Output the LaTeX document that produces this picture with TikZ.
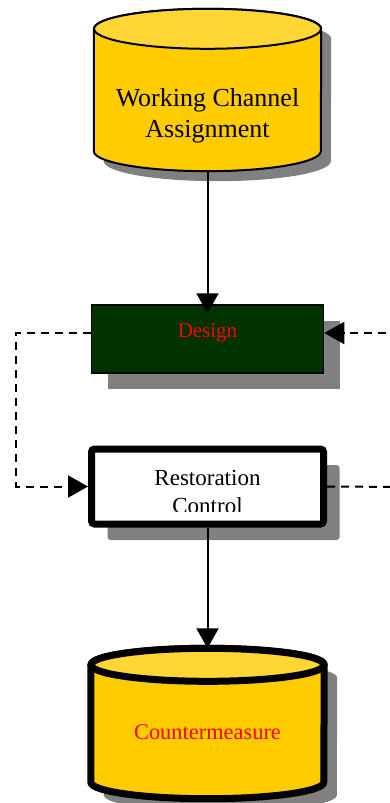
\documentclass[tikz,border=0pt]{standalone}
\usepackage{fontspec}
\setmainfont{Liberation Serif}
\usetikzlibrary{shadows,arrows.meta,positioning,backgrounds}
\definecolor{canyellow}{HTML}{FFCC00}
\definecolor{lidyellow}{HTML}{FFD633}
\definecolor{darkgreen}{HTML}{003300}

% drum drawn round a node: node, x radius, lid y radius, shadow offset, line width
\newcommand{\drumround}[5]{%
  \fill[gray,transform canvas={shift={(#4pt,-#4pt)}}]
     ([yshift=-#3pt]#1.north west) -- ([yshift=#3pt]#1.south west)
     arc[start angle=180,end angle=360,x radius=#2pt,y radius=#3pt] -- ([yshift=-#3pt]#1.north east)
     arc[start angle=0,end angle=180,x radius=#2pt,y radius=#3pt] -- cycle;
  \filldraw[fill=canyellow,line width=#5pt,line join=round]
     ([yshift=-#3pt]#1.north west) -- ([yshift=#3pt]#1.south west)
     arc[start angle=180,end angle=360,x radius=#2pt,y radius=#3pt] -- ([yshift=-#3pt]#1.north east)
     arc[start angle=0,end angle=180,x radius=#2pt,y radius=#3pt] -- cycle;
  \filldraw[fill=lidyellow,line width=#5pt]
     ([yshift=-#3pt]#1.north) ellipse[x radius=#2pt,y radius=#3pt];
}

\begin{document}
\begin{tikzpicture}[x=1pt,y=1pt,node distance=150pt,on grid,
   >={Triangle[length=20pt,width=22pt]},
   store/.style={rectangle,inner sep=0pt},
   procbox/.style={rectangle,draw,inner sep=0pt,minimum width=232pt},
   blockshadow/.style={drop shadow={shadow xshift=#1,shadow yshift=-#1,fill=gray,opacity=1}},
   flow/.style={->,line width=2pt},
   feedback/.style={->,line width=2pt,dash pattern=on 8pt off 6pt}]
   \useasboundingbox (0,0) rectangle (390,-803);
   \clip (0,0) rectangle (390,-803);
   % stores and blocks
   \node[store,minimum width=227pt,minimum height=162pt,
         label={[align=center,font=\fontsize{26}{31}\selectfont,yshift=-26pt]center:{Working Channel\\Assignment}}]
         (wca) at (207.5,-90) {};
   \node[procbox,line width=1.5pt,fill=darkgreen,minimum height=68pt,blockshadow=16pt,
         label={[text=red,font=\fontsize{21}{25}\selectfont,yshift=6pt]center:Design}]
         (design) [below=249pt of wca] {};
   \node[procbox,line width=7pt,fill=white,rounded corners=3pt,minimum height=75pt,blockshadow=16pt,
         path picture={
            \clip ([yshift=13pt]path picture bounding box.south west) rectangle (path picture bounding box.north east);
            \node[align=center,font=\fontsize{23}{28}\selectfont] at ([yshift=-5.5pt]path picture bounding box.center)
               {Restoration\\Control};}]
         (restore) [below=147.5pt of design] {};
   \node[store,minimum width=233pt,minimum height=150pt,
         label={[text=red,font=\fontsize{22.4}{27}\selectfont,yshift=-8.5pt]center:Countermeasure}]
         (cm) [below=237pt of restore] {};
   \begin{scope}[on background layer]
      \drumround{wca}{113.5}{20}{10}{2}
      \drumround{cm}{116.5}{16.5}{13}{7}
   \end{scope}
   % loose ends of the feedback lines
   \coordinate (loopleft) at (16,-400);
   \coordinate (inright) at (400,-333);
   \coordinate (outright) at (400,-487);
   \path[flow]
   (wca) edge [shorten >=-9pt] (design)
   (restore) edge (cm);
   \draw[feedback] ([yshift=6pt]design.west) -| (loopleft) |- (restore.west);
   \draw[feedback] (inright) -- ([yshift=6pt]design.east);
   \draw[feedback,-] (restore.east) -- (outright);
\end{tikzpicture}
\end{document}
